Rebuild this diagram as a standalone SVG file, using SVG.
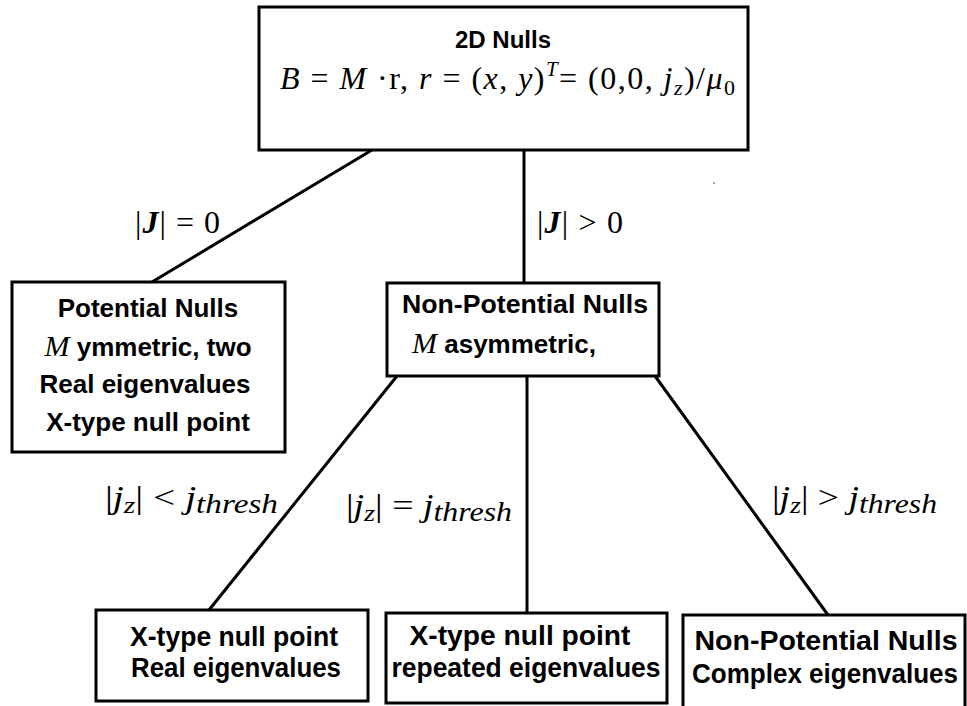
<svg xmlns="http://www.w3.org/2000/svg" width="967" height="706" viewBox="0 0 967 706">
<style>
.box{fill:#fff;stroke:#000;stroke-width:3}
.conn{stroke:#000;stroke-width:3;fill:none}
.t{font-family:"Liberation Sans",Arial,sans-serif;font-weight:bold;fill:#000;text-anchor:middle}
.m{font-family:"Liberation Serif","DejaVu Serif",serif;fill:#000}
.i{font-style:italic}
</style>
<rect width="967" height="706" fill="#fff"/>
<g id="connectors">
<line class="conn" x1="372" y1="150" x2="152" y2="282"/>
<line class="conn" x1="524" y1="150" x2="524" y2="283"/>
<line class="conn" x1="397" y1="376" x2="209" y2="610"/>
<line class="conn" x1="527" y1="376" x2="527" y2="613"/>
<line class="conn" x1="655" y1="376" x2="828" y2="615"/>
</g>
<g id="edge-labels">
<text class="m" x="135" y="233" font-size="32" textLength="85" lengthAdjust="spacing">|<tspan class="i" font-weight="bold">J</tspan>| = 0</text>
<text class="m" x="537" y="233" font-size="32" textLength="86" lengthAdjust="spacing">|<tspan class="i" font-weight="bold">J</tspan>| &gt; 0</text>
<text class="m" x="105" y="508" font-size="32" textLength="173" lengthAdjust="spacingAndGlyphs">|<tspan class="i">j</tspan><tspan class="i" font-size="24" dy="5">z</tspan><tspan dy="-5">| &lt; </tspan><tspan class="i">j</tspan><tspan class="i" font-size="27" dy="5">thresh</tspan></text>
<text class="m" x="346" y="516" font-size="32" textLength="166" lengthAdjust="spacingAndGlyphs">|<tspan class="i">j</tspan><tspan class="i" font-size="24" dy="5">z</tspan><tspan dy="-5">| = </tspan><tspan class="i">j</tspan><tspan class="i" font-size="27" dy="5">thresh</tspan></text>
<text class="m" x="772" y="508" font-size="32" textLength="165" lengthAdjust="spacingAndGlyphs">|<tspan class="i">j</tspan><tspan class="i" font-size="24" dy="5">z</tspan><tspan dy="-5">| &gt; </tspan><tspan class="i">j</tspan><tspan class="i" font-size="27" dy="5">thresh</tspan></text>
<circle cx="714" cy="183" r="1" fill="#888"/>
</g>
<g id="node-root">
<rect class="box" x="259" y="7" width="489" height="143" stroke-width="4"/>
<text class="t" x="503" y="48" font-size="24">2D Nulls</text>
<text class="m" x="280" y="89" font-size="32" textLength="455" lengthAdjust="spacing"><tspan class="i">B</tspan> = <tspan class="i">M</tspan> ·r, <tspan class="i">r</tspan> = (<tspan class="i">x</tspan>, <tspan class="i">y</tspan>)<tspan class="i" font-size="21" dy="-13">T</tspan><tspan dy="13">= (0,0, </tspan><tspan class="i">j</tspan><tspan class="i" font-size="22" dy="6">z</tspan><tspan dy="-6">)/</tspan><tspan class="i">μ</tspan><tspan font-size="22" dy="6">0</tspan></text>
</g>
<g id="node-potential">
<rect class="box" x="12" y="282" width="273" height="170"/>
<text class="t" x="148" y="317" font-size="26">Potential Nulls</text>
<text class="t" x="148" y="356" font-size="26"><tspan class="m i" font-weight="normal" font-size="30">M</tspan> ymmetric, two</text>
<text class="t" x="145" y="393" font-size="26">Real eigenvalues</text>
<text class="t" x="148" y="431" font-size="26">X-type null point</text>
</g>
<g id="node-nonpotential">
<rect class="box" x="387" y="283" width="272" height="93"/>
<text class="t" x="525" y="313" font-size="26" textLength="246" lengthAdjust="spacingAndGlyphs">Non-Potential Nulls</text>
<text class="t" x="504" y="353" font-size="26"><tspan class="m i" font-weight="normal" font-size="30">M</tspan> asymmetric,</text>
</g>
<g id="node-xreal">
<rect class="box" x="96" y="610" width="272" height="91"/>
<text class="t" x="234" y="646" font-size="27" textLength="208" lengthAdjust="spacingAndGlyphs">X-type null point</text>
<text class="t" x="236" y="677" font-size="27" textLength="210" lengthAdjust="spacingAndGlyphs">Real eigenvalues</text>
</g>
<g id="node-xrepeated">
<rect class="box" x="386" y="613" width="281" height="90"/>
<text class="t" x="520" y="645" font-size="27" textLength="221" lengthAdjust="spacingAndGlyphs">X-type null point</text>
<text class="t" x="526" y="677" font-size="27" textLength="269" lengthAdjust="spacingAndGlyphs">repeated eigenvalues</text>
</g>
<g id="node-complex">
<rect class="box" x="683" y="615" width="282" height="95"/>
<text class="t" x="826" y="650" font-size="27" textLength="263" lengthAdjust="spacingAndGlyphs">Non-Potential Nulls</text>
<text class="t" x="825" y="683" font-size="27" textLength="266" lengthAdjust="spacingAndGlyphs">Complex eigenvalues</text>
</g>
</svg>
